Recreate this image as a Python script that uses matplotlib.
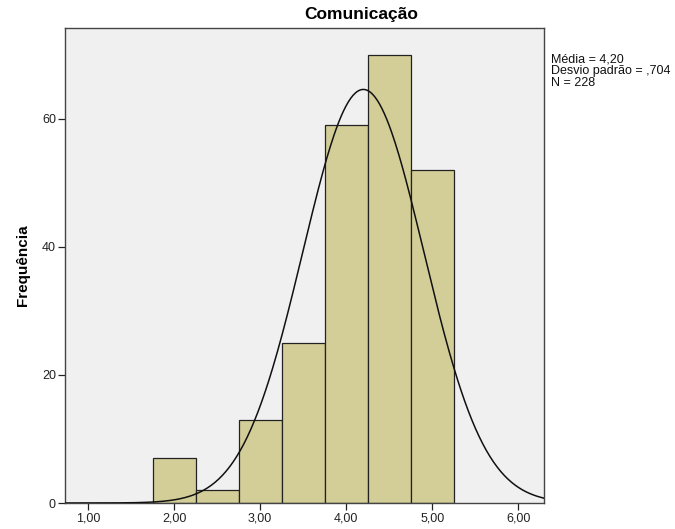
import matplotlib
matplotlib.use('Agg')
import matplotlib.pyplot as plt
import numpy as np

plt.rcParams['font.family'] = ['Liberation Sans', 'DejaVu Sans']

# Frequencies per class (bin width 0.5)
bin_centers = [2.0, 2.5, 3.0, 3.5, 4.0, 4.5, 5.0]
frequencies = [7, 2, 13, 25, 59, 70, 52]
bin_width = 0.5

mean = 4.20
std = 0.704
n = 228

x_ticks = [1, 2, 3, 4, 5, 6]
x_tick_labels = ['1,00', '2,00', '3,00', '4,00', '5,00', '6,00']
y_ticks = [0, 20, 40, 60]

fig = plt.figure(figsize=(6.75, 5.29), dpi=100)
ax = fig.add_axes([65 / 675, 26 / 529, 479 / 675, 475 / 529])
ax.set_facecolor('#F0F0F0')

ax.bar(bin_centers, frequencies, width=bin_width, color='#D3CE97',
       edgecolor='#222222', linewidth=0.9, zorder=2)

# normal curve scaled to counts
xmin, xmax = 0.733, 6.30
xs = np.linspace(xmin, xmax, 400)
curve = n * bin_width / (std * np.sqrt(2 * np.pi)) * np.exp(-0.5 * ((xs - mean) / std) ** 2)
ax.plot(xs, curve, color='#111111', linewidth=1.1, zorder=3)

ax.set_xlim(xmin, xmax)
ax.set_ylim(0, 74.2)
ax.set_xticks(x_ticks)
ax.set_xticklabels(x_tick_labels)
ax.set_yticks(y_ticks)
ax.tick_params(axis='both', direction='out', length=5, width=0.9,
               labelsize=9, colors='#222222', pad=1.5)

for spine in ax.spines.values():
    spine.set_color('#444444')
    spine.set_linewidth(1.0)

ax.set_ylabel('Frequência', fontsize=11, fontweight='bold')
ax.yaxis.set_label_coords(-0.0885, 0.5)
ax.yaxis.label.set_verticalalignment('center')

fig.text(361 / 675, 1 - 19 / 529, 'Comunicação', fontsize=12.5,
         fontweight='bold', ha='center', va='baseline')

fig.text(551 / 675, 1 - 54 / 529,
         'Média = 4,20\nDesvio padrão = ,704\nN = 228',
         fontsize=9, va='top', ha='left', linespacing=0.92, color='#111111')

fig.savefig('out.png', dpi=100, facecolor='white')
